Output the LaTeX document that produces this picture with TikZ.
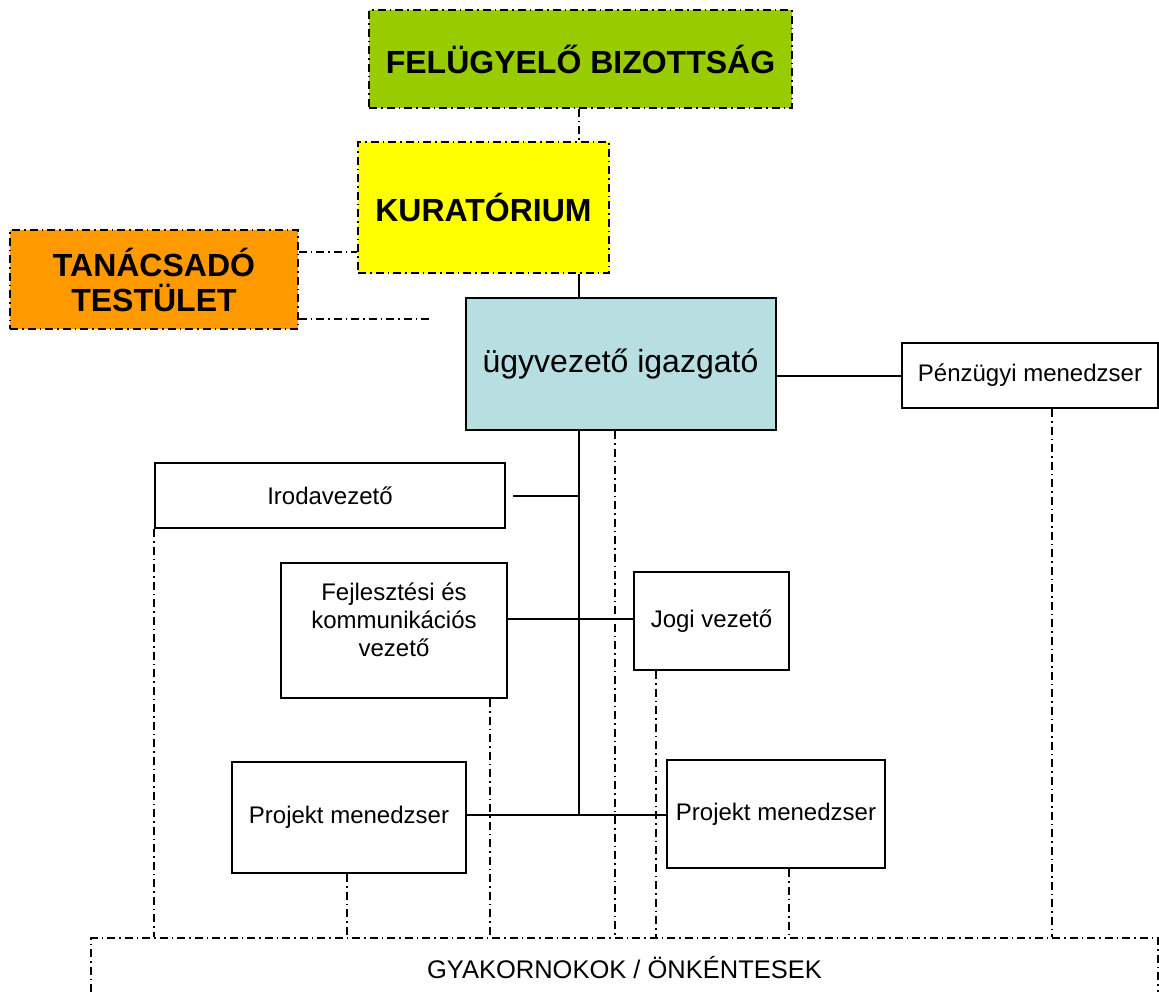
\documentclass[tikz,border=0pt]{standalone}
\usepackage{fontspec}
\setmainfont{Liberation Sans}
\usetikzlibrary{calc}
\definecolor{fbgreen}{HTML}{99CC00}
\definecolor{kuryellow}{HTML}{FFFF00}
\definecolor{tanorange}{HTML}{FF9900}
\definecolor{ugyblue}{HTML}{B7DEE1}
\tikzset{
  dd/.style={line width=1.8pt, dash pattern=on 8pt off 4pt on 1.5pt off 4pt},
  conn/.style={line width=2pt},
  solidbox/.style={draw, line width=2pt, rectangle, inner sep=0pt, align=center,
    font=\fontsize{24}{28}\selectfont},
  ddbox/.style={draw, dd, rectangle, inner sep=0pt, align=center,
    font=\bfseries\fontsize{32}{35}\selectfont},
  lbl/.style={inner sep=0pt, align=center, font=\fontsize{24}{28}\selectfont},
}
\begin{document}
\begin{tikzpicture}[x=1pt,y=-1pt]
\useasboundingbox (0,0) rectangle (1159,991);
\clip (0,0) rectangle (1159,991);
\fill[white] (0,0) rectangle (1159,991);

% boxes
\node[ddbox, fill=fbgreen, minimum width=423pt, minimum height=98pt] (fb) at (580.5,59) {FELÜGYELŐ BIZOTTSÁG};
\node[ddbox, fill=kuryellow, minimum width=251pt, minimum height=131pt] (kur) at (483.5,207.5) {KURATÓRIUM};
\node[ddbox, fill=tanorange, minimum width=288pt, minimum height=99pt] (tan) at (154,279.5) {TANÁCSADÓ\\TESTÜLET};
\node[solidbox, fill=ugyblue, minimum width=310pt, minimum height=132pt, font=\fontsize{32}{36}\selectfont] (ugy) at (620.5,364) {ügyvezető igazgató};
\node[solidbox, minimum width=256pt, minimum height=65pt] (pen) at (1030,375.5) {Pénzügyi menedzser};
\node[solidbox, minimum width=350pt, minimum height=65pt] (iro) at (330,495.5) {Irodavezető};
\node[solidbox, minimum width=226pt, minimum height=135pt] (fej) at (394,630.5) {};
\node[lbl] (fejt) at (394,620) {Fejlesztési és\\kommunikációs\\vezető};
\node[solidbox, minimum width=155pt, minimum height=98pt] (jogi) at (711.5,621) {Jogi vezető};
\node[solidbox, minimum width=234pt, minimum height=111pt] (pm1) at (349,817.5) {Projekt menedzser};
\node[solidbox, minimum width=218pt, minimum height=108pt] (pm2) at (776,814) {Projekt menedzser};
\node[draw, dd, rectangle, inner sep=0pt, minimum width=1067pt, minimum height=60pt,
      font=\fontsize{25.5}{28}\selectfont] (gy) at (624.5,968) {GYAKORNOKOK / ÖNKÉNTESEK};

% helper coordinates
\coordinate (spine) at (579,0);
\coordinate (t1) at (0,252);
\coordinate (tanend) at (433,319);
\coordinate (fy) at (0,619);
\coordinate (pmy) at (0,815);
\coordinate (xfej) at (490,0);
\coordinate (xpm1) at (347,0);
\coordinate (xugy) at (615,0);
\coordinate (xjogi) at (656,0);
\coordinate (xpm2) at (789,0);
\coordinate (xpen) at (1052,0);

% dash-dot connectors
\draw[dd] (fb.south -| spine) -- (kur.north -| spine);
\draw[dd] (tan.east |- t1) -- (kur.west |- t1);
\draw[dd] (tan.east |- tanend) -- (tanend);
\draw[dd] (iro.south west) -- (iro.south west |- gy.north);
\draw[dd] (fej.south -| xfej) -- (gy.north -| xfej);
\draw[dd] (pm1.south -| xpm1) -- (gy.north -| xpm1);
\draw[dd] (ugy.south -| xugy) -- (gy.north -| xugy);
\draw[dd] (jogi.south -| xjogi) -- (gy.north -| xjogi);
\draw[dd] (pm2.south -| xpm2) -- (gy.north -| xpm2);
\draw[dd] (pen.south -| xpen) -- (gy.north -| xpen);

% solid connectors
\draw[conn] (kur.south -| spine) -- (ugy.north -| spine);
\draw[conn] (ugy.east |- pen.west) -- (pen.west);
\draw[conn] (ugy.south -| spine) -- (spine |- pmy);
\draw[conn, shorten <=7pt] (iro.east) -- (iro.east -| spine);
\draw[conn] (fej.east |- fy) -- (jogi.west |- fy);
\draw[conn] (pm1.east |- pmy) -- (pm2.west |- pmy);
\end{tikzpicture}
\end{document}
